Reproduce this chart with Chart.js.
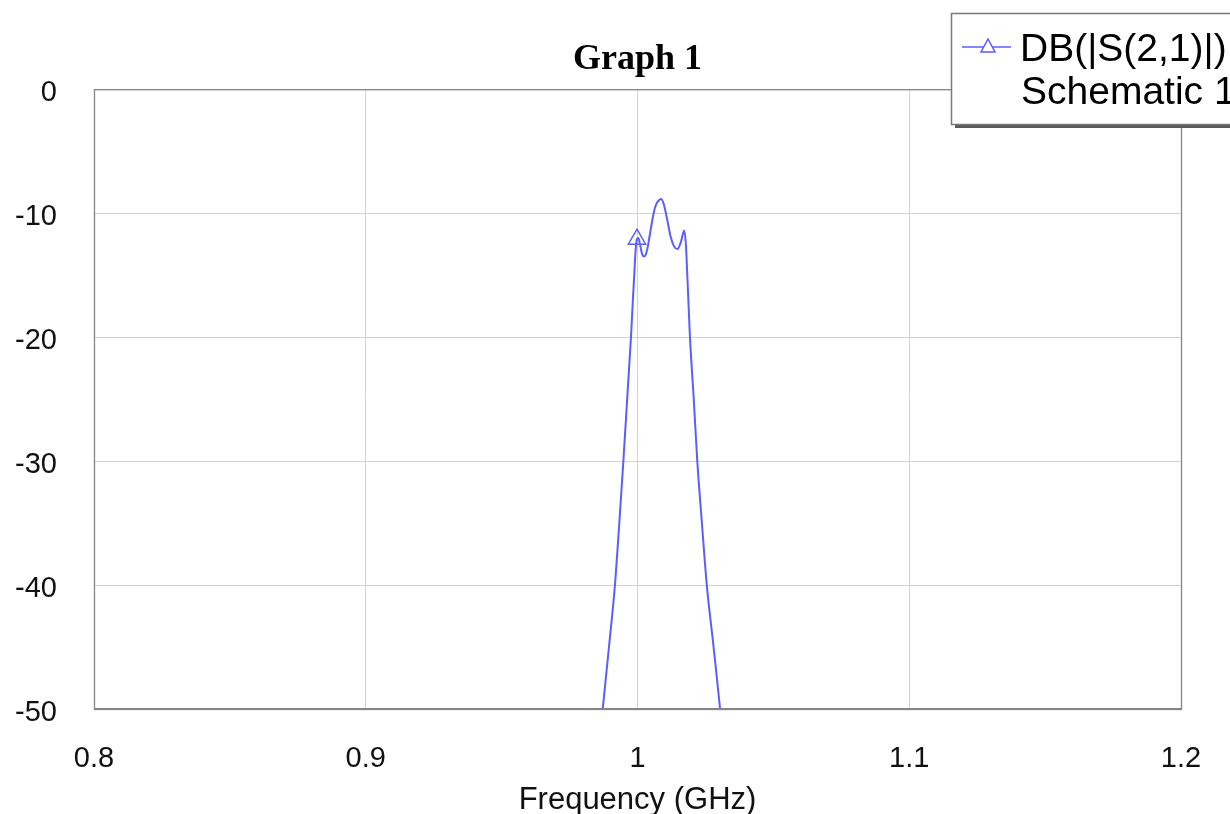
<!DOCTYPE html>
<html>
<head>
<meta charset="utf-8">
<script src="https://cdn.jsdelivr.net/npm/chart.js@4"></script>
<style>
  html, body { margin: 0; padding: 0; background: #ffffff; }
  #wrap { width: 1230px; height: 814px; position: relative; }
</style>
</head>
<body>
<div id="wrap"><canvas id="c" width="1230" height="814"></canvas></div>
<script>
// ---- data ----
const chartTitle = "Graph 1";
const xAxisTitle = "Frequency (GHz)";
const seriesName = "DB(|S(2,1)|)";
const seriesSource = "Schematic 1";
const xTickLabels = ["0.8", "0.9", "1", "1.1", "1.2"];
const yTickLabels = ["-50", "-40", "-30", "-20", "-10", "0"];
const freqGHz = [0.985, 0.9872, 0.9895, 0.9917, 0.9933, 0.9948, 0.9962, 0.9976, 0.9983, 0.9988, 0.9993,
  0.9998, 1.0003, 1.0010, 1.0017, 1.0025, 1.0035, 1.0045, 1.0055, 1.0065, 1.0077, 1.0087, 1.0097,
  1.0110, 1.0122, 1.0135, 1.0147, 1.0160, 1.0168, 1.0172, 1.0178, 1.0184, 1.0190, 1.0193, 1.0207,
  1.0220, 1.0237, 1.0255, 1.0280, 1.0304, 1.0325];
const s21dB = [-55, -50, -45, -40, -35, -30, -25, -20, -17, -15, -13,
  -12.1, -12.0, -12.6, -13.3, -13.5, -13.0, -11.8, -10.5, -9.5, -9.0, -8.85, -9.3,
  -10.6, -11.9, -12.7, -12.9, -12.3, -11.6, -11.4, -12.5, -15.4, -18.5, -20, -25,
  -30, -35, -40, -45, -50, -55];
const markerFreq = 0.9998;

const lineColor = "#5c5cff";
const points = freqGHz.map((f, i) => ({ x: f, y: s21dB[i] }));
const radii = freqGHz.map(f => (f === markerFreq ? 10 : 0));

const frame = {
  id: "frame",
  afterDatasetsDraw(chart) {
    const { ctx, chartArea: a } = chart;
    ctx.save();
    ctx.strokeStyle = "#858585";
    ctx.lineWidth = 1.3;
    ctx.strokeRect(a.left + 0.5, a.top + 0.5, a.right - a.left, a.bottom - a.top);
    ctx.lineWidth = 2;
    ctx.beginPath();
    ctx.moveTo(a.left, a.bottom);
    ctx.lineTo(a.right, a.bottom);
    ctx.stroke();
    ctx.restore();
  },
  afterDraw(chart) {
    const { ctx } = chart;
    const ds = chart.data.datasets[0];
    ctx.save();
    const bx = 951, by = 13, bw = 300, bh = 111;
    // shadow
    ctx.fillStyle = "#5a5a5a";
    ctx.fillRect(bx + 4, by + 4, bw, bh);
    ctx.fillStyle = "#ffffff";
    ctx.fillRect(bx, by, bw, bh);
    ctx.strokeStyle = "#7a7a7a";
    ctx.lineWidth = 1.5;
    ctx.strokeRect(bx + 0.5, by + 0.5, bw, bh);
    // sample line + marker
    ctx.strokeStyle = ds.borderColor;
    ctx.lineWidth = 1.5;
    ctx.beginPath();
    ctx.moveTo(962, 47);
    ctx.lineTo(1011, 47);
    ctx.stroke();
    ctx.beginPath();
    ctx.moveTo(988, 39);
    ctx.lineTo(995, 52);
    ctx.lineTo(981, 52);
    ctx.closePath();
    ctx.fillStyle = "#ffffff";
    ctx.fill();
    ctx.stroke();
    // text
    ctx.fillStyle = "#000000";
    ctx.font = "39px 'Liberation Sans', Arial, sans-serif";
    ctx.textBaseline = "alphabetic";
    ctx.textAlign = "left";
    ctx.fillText(ds.label, 1020, 61);
    ctx.fillText(seriesSource, 1021, 104);
    ctx.restore();
  }
};

new Chart(document.getElementById("c"), {
  type: "line",
  data: {
    datasets: [{
      label: seriesName,
      data: points,
      borderColor: lineColor,
      borderWidth: 2,
      pointStyle: "triangle",
      pointRadius: radii,
      pointHoverRadius: radii,
      pointBorderColor: lineColor,
      pointBackgroundColor: "rgba(0,0,0,0)",
      pointBorderWidth: 1.5,
      cubicInterpolationMode: "monotone",
      fill: false
    }]
  },
  options: {
    responsive: false,
    animation: false,
    events: [],
    layout: { padding: { top: 0, right: 49, bottom: 0, left: 0 } },
    plugins: {
      legend: { display: false },
      tooltip: { enabled: false },
      title: {
        display: true,
        text: chartTitle,
        fullSize: false,
        color: "#000000",
        font: { family: "'Liberation Serif', 'Times New Roman', serif", size: 36, weight: "bold", lineHeight: 1.2 },
        padding: { top: 38, bottom: 8 }
      }
    },
    scales: {
      x: {
        type: "linear",
        min: 0.8,
        max: 1.2,
        afterFit(s) { s.height = 105; s.paddingRight = 0; s.paddingLeft = 0; },
        afterBuildTicks(s) { s.ticks = xTickLabels.map(t => ({ value: parseFloat(t) })); },
        ticks: {
          callback: (v) => xTickLabels.find(t => Math.abs(parseFloat(t) - v) < 1e-6) || "",
          color: "#111111",
          font: { family: "'Liberation Sans', Arial, sans-serif", size: 29 },
          padding: 33,
          maxRotation: 0,
          autoSkip: false
        },
        grid: { color: "#d3d3d3", lineWidth: 1, drawTicks: false },
        border: { display: false },
        title: {
          display: true,
          text: xAxisTitle,
          color: "#111111",
          font: { family: "'Liberation Sans', Arial, sans-serif", size: 31, lineHeight: 1 },
          padding: { top: 0, bottom: -2 }
        }
      },
      y: {
        type: "linear",
        min: -50,
        max: 0,
        afterFit(s) { s.width = 94; },
        afterBuildTicks(s) { s.ticks = yTickLabels.map(t => ({ value: parseFloat(t) })); },
        ticks: {
          callback: (v) => yTickLabels.find(t => parseFloat(t) === v) || "",
          color: "#111111",
          font: { family: "'Liberation Sans', Arial, sans-serif", size: 29 },
          padding: 37,
          labelOffset: 4,
          autoSkip: false
        },
        grid: { color: "#d3d3d3", lineWidth: 1, drawTicks: false },
        border: { display: false }
      }
    }
  },
  plugins: [frame]
});
</script>
</body>
</html>
